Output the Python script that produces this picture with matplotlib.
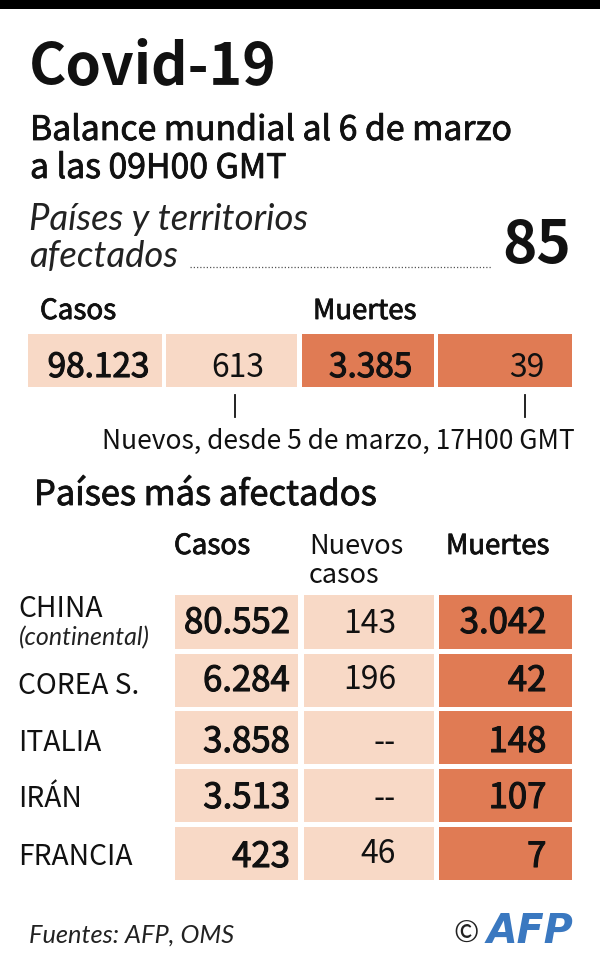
import matplotlib
matplotlib.use('Agg')
import matplotlib.pyplot as plt
import matplotlib.patheffects as pe
from matplotlib.patches import Rectangle

# valores
world_values = ['98.123', '613', '3.385', '39']
countries = ['CHINA', 'COREA S.', 'ITALIA', 'IRÁN', 'FRANCIA']
cases = ['80.552', '6.284', '3.858', '3.513', '423']
new_cases = ['143', '196', '--', '--', '46']
deaths = ['3.042', '42', '148', '107', '7']

LIGHT = '#f8d9c6'
DARK = '#e07b54'
INK = '#111111'
SANS = ['Noto Sans CJK SC', 'DejaVu Sans']
ITAL = ['Lato', 'DejaVu Sans']

fig = plt.figure(figsize=(6, 9.65), dpi=100)
ax = fig.add_axes([0, 0, 1, 1])
ax.set_xlim(0, 600)
ax.set_ylim(965, 0)
ax.axis('off')


def txt(x, y, s, size, weight='normal', ha='left', family=SANS, style='normal', color=INK, stroke=0):
    t = ax.text(x, y, s, fontsize=size, fontweight=weight, ha=ha, va='baseline',
                family=family, style=style, color=color)
    # no hay semibold en la fuente, se engorda un poco el regular
    if stroke:
        t.set_path_effects([pe.withStroke(linewidth=stroke, foreground=color)])


def cell(x0, x1, y0, y1, color):
    ax.add_patch(Rectangle((x0, y0), x1 - x0, y1 - y0, fc=color, ec='none'))


# barra de arriba
cell(0, 600, 0, 9, '#000000')

# cabecera
txt(29, 85, 'Covid-19', 41, 'bold')
txt(30, 140, 'Balance mundial al 6 de marzo', 24.3, stroke=0.6)
txt(30, 178, 'a las 09H00 GMT', 24.3, stroke=0.6)
txt(29, 230, 'Países y territorios', 26.3, family=ITAL, style='italic', color='#222222')
txt(29, 267, 'afectados', 26.3, family=ITAL, style='italic', color='#222222')
txt(571, 263, '85', 42, 'bold', ha='right')
ax.plot([190, 491], [267, 267], color='#555555', lw=0.9, ls=(0, (1, 1.6)))

# balance mundial
txt(40, 319, 'Casos', 20, stroke=0.6)
txt(313, 319, 'Muertes', 19.8, stroke=0.6)
world_x = [(28, 162), (166, 297), (302, 434), (438, 572)]
world_colors = [LIGHT, LIGHT, DARK, DARK]
world_right = [149, 264, 412, 545]
world_size = [24, 23, 24, 23]
world_stroke = [0.8, 0, 0.8, 0]
for i, v in enumerate(world_values):
    cell(world_x[i][0], world_x[i][1], 334, 387, world_colors[i])
    txt(world_right[i], 377, v, world_size[i], ha='right', stroke=world_stroke[i])
for x in (234.5, 525):
    ax.plot([x, x], [395, 417], color=INK, lw=1.3)
txt(101.5, 449, 'Nuevos, desde 5 de marzo, 17H00 GMT', 19)

# tabla de paises
txt(34, 505, 'Países más afectados', 24.8, stroke=0.6)
txt(174, 554, 'Casos', 20, stroke=0.6)
txt(309, 554, 'Nuevos', 19.5)
txt(309, 583, 'casos', 19.5)
txt(446, 554, 'Muertes', 19.8, stroke=0.6)

row_top = [595, 654, 711, 769, 827]
row_bottom = [649, 707, 764, 822, 880]
base_cases = [633, 691, 752, 808, 867]
base_new = [633, 689, 752, 808, 863]
base_label = [617, 694, 751, 807, 865]
for i, name in enumerate(countries):
    cell(175, 298, row_top[i], row_bottom[i], LIGHT)
    cell(303.5, 434, row_top[i], row_bottom[i], LIGHT)
    cell(439, 571.5, row_top[i], row_bottom[i], DARK)
    txt(18.5, base_label[i], name, 20.3)
    txt(290, base_cases[i], cases[i], 25, ha='right', stroke=0.8)
    txt(396, base_new[i], new_cases[i], 23, ha='right')
    txt(546.5, base_cases[i], deaths[i], 25, ha='right', stroke=0.8)
txt(19, 645, '(continental)', 18, family=ITAL, style='italic', color='#222222')

# pie
txt(29, 943, 'Fuentes: AFP, OMS', 18.3, family=ITAL, style='italic', color='#222222')
txt(453, 943, '©', 22, color='#222222')
txt(487, 943, 'AFP', 28.5, 'bold', family=['DejaVu Sans'], style='italic', color='#3a78c0')

fig.savefig('out.png', dpi=100)
